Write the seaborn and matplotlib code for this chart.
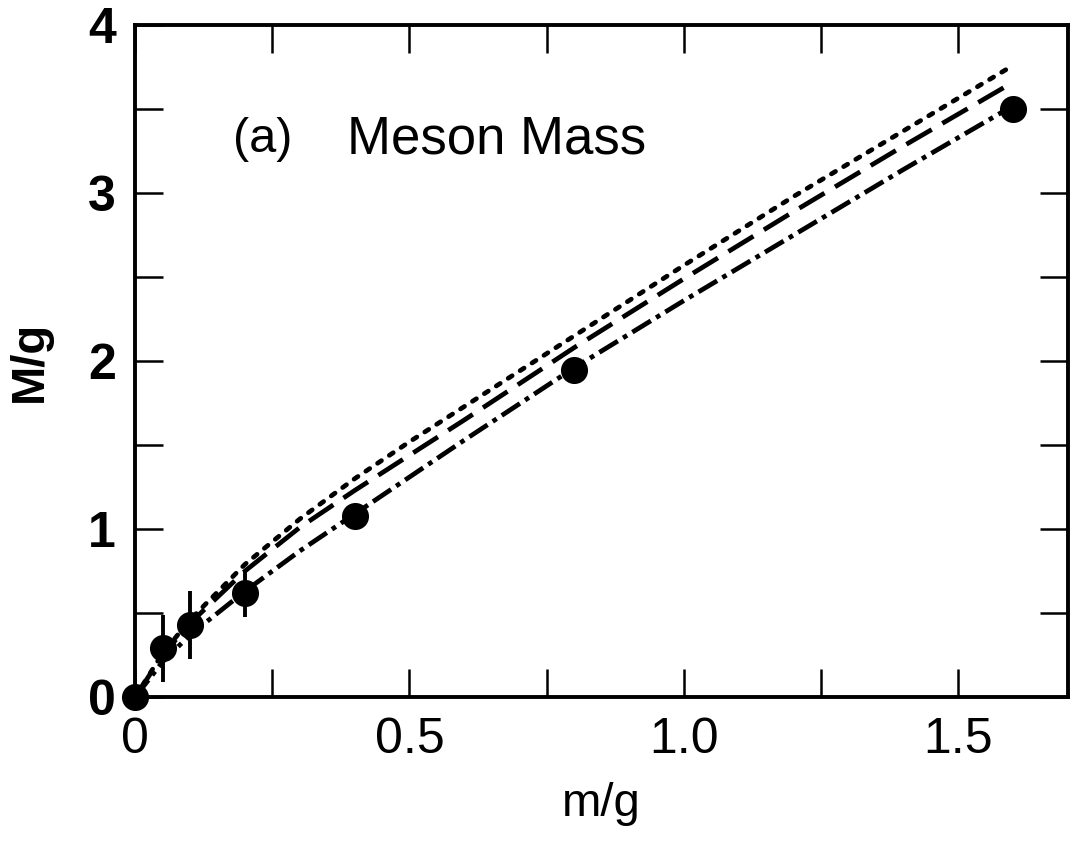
import numpy as np
import pandas as pd
import matplotlib
matplotlib.use("Agg")
import matplotlib.pyplot as plt
import seaborn as sns

# lattice points (m/g, M/g) with vertical error bars
pt_x = [0.0, 0.05, 0.1, 0.2, 0.4, 0.8, 1.6]
pt_y = [0.0, 0.29, 0.43, 0.62, 1.08, 1.95, 3.50]
pt_err = [0.0, 0.20, 0.20, 0.14, 0.0, 0.0, 0.0]

# curves
curve_x = [0.0, 0.05, 0.1, 0.2, 0.3, 0.4, 0.5, 0.6, 0.8, 1.0, 1.2, 1.4, 1.6]
dotted_y = [0.0, 0.26, 0.46, 0.79, 1.06, 1.30, 1.52, 1.73, 2.15, 2.57, 2.98, 3.37, 3.76]
dashed_y = [0.0, 0.25, 0.44, 0.75, 1.01, 1.23, 1.44, 1.65, 2.08, 2.49, 2.89, 3.28, 3.66]
dashdot_y = [0.0, 0.21, 0.37, 0.63, 0.87, 1.09, 1.31, 1.53, 1.96, 2.36, 2.75, 3.14, 3.52]

x_ticks = [0, 0.5, 1.0, 1.5]
x_ticklabels = ["0", "0.5", "1.0", "1.5"]
y_ticks = [0, 1, 2, 3, 4]
y_ticklabels = ["0", "1", "2", "3", "4"]

sns.set_theme(style="ticks")
plt.rcParams['font.family'] = ['Liberation Sans', 'DejaVu Sans']
plt.rcParams['text.color'] = 'black'
plt.rcParams['axes.labelcolor'] = 'black'

fig = plt.figure(figsize=(10.72, 8.41), dpi=100)
ax = fig.add_axes([0.126, 0.171, 0.870, 0.799])

curves = pd.DataFrame({"x": curve_x, "dotted": dotted_y,
                       "dashed": dashed_y, "dashdot": dashdot_y})

sns.lineplot(data=curves, x="x", y="dotted", ax=ax, color="black", lw=3.4,
             linestyle=(0, (1.0, 2.0)), dash_capstyle="round")
sns.lineplot(data=curves, x="x", y="dashed", ax=ax, color="black", lw=3.4,
             linestyle=(0, (6.2, 2.6)))
sns.lineplot(data=curves, x="x", y="dashdot", ax=ax, color="black", lw=3.4,
             linestyle=(0, (4.6, 1.3, 1.0, 1.3)))

ax.errorbar(pt_x, pt_y, yerr=pt_err, fmt="none", ecolor="black",
            elinewidth=2.8, capsize=0)
sns.scatterplot(x=pt_x, y=pt_y, ax=ax, color="black", s=380,
                edgecolor="black", linewidth=0, zorder=5, clip_on=False)

ax.set_xlim(0, 1.7)
ax.set_ylim(0, 4)
ax.set_xticks(x_ticks)
ax.set_xticklabels(x_ticklabels, fontsize=36, color="black")
ax.set_xticks(np.arange(0.25, 1.7, 0.5), minor=True)
ax.set_yticks(y_ticks)
ax.set_yticklabels(y_ticklabels, fontsize=36, fontweight="bold", color="black")
ax.set_yticks(np.arange(0.5, 4, 1.0), minor=True)

ax.tick_params(which="both", direction="in", length=20, width=1.8,
               top=True, right=True, colors="black")
ax.tick_params(axis="x", which="major", pad=14)
ax.tick_params(axis="y", which="major", pad=14)
for s in ax.spines.values():
    s.set_linewidth(2.8)
    s.set_color("black")

ax.set_xlabel("m/g", fontsize=34, labelpad=14, color="black")
ax.set_ylabel("M/g", fontsize=34, fontweight="bold", labelpad=26, color="black")

ax.text(0.105, 0.83, "(a)", transform=ax.transAxes, fontsize=35,
        va="center", ha="left", color="black")
ax.text(0.227, 0.83, "Meson Mass", transform=ax.transAxes, fontsize=38,
        va="center", ha="left", color="black")

fig.savefig("out.png", dpi=100)
